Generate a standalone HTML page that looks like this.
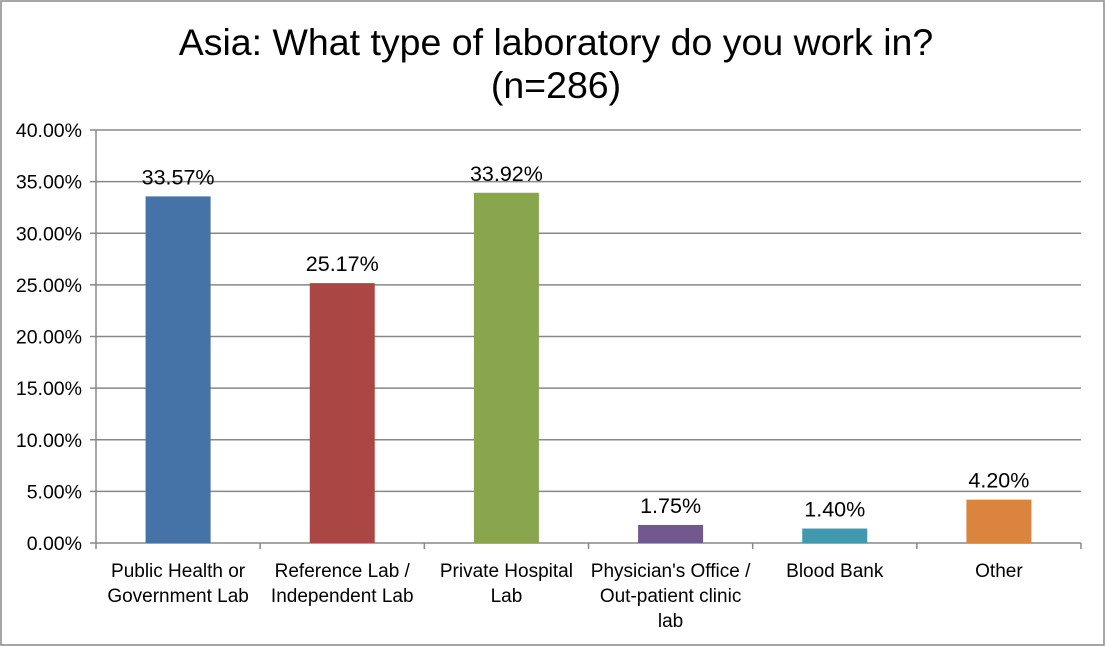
<!DOCTYPE html>
<html><head><meta charset="utf-8"><style>
body{margin:0;background:#fff;font-family:"Liberation Sans",sans-serif}
#wrap{position:relative;width:1106px;height:647px;overflow:hidden}
</style></head><body>
<div id="wrap">
<svg id="svg" width="1106" height="647" xmlns="http://www.w3.org/2000/svg">
<rect x="1" y="1" width="1103" height="644" fill="#fff" stroke="#888" stroke-width="1.5"/>
<text x="556" y="55" text-anchor="middle" font-size="37.5" fill="#000">Asia: What type of laboratory do you work in?</text>
<text x="556" y="98" text-anchor="middle" font-size="37.5" fill="#000">(n=286)</text>
<g id="grid"></g><g id="bars"></g><g id="axes"></g>
</svg>
</div>
<script>
const categories=[["Public Health or","Government Lab"],["Reference Lab /","Independent Lab"],["Private Hospital","Lab"],["Physician's Office /","Out-patient clinic","lab"],["Blood Bank"],["Other"]];
const values=[33.57,25.17,33.92,1.75,1.40,4.20];
const valueLabels=["33.57%","25.17%","33.92%","1.75%","1.40%","4.20%"];
const colors=["#4572A7","#AA4643","#89A54E","#71588F","#4198AF","#DB843D"];
const yTicks=[0,5,10,15,20,25,30,35,40];
const NS="http://www.w3.org/2000/svg";
const X0=96,X1=1081,Y0=543,Y1=130,YMAX=40;
const y=v=>Y0-(v/YMAX)*(Y0-Y1);
const bw=(X1-X0)/categories.length;
const x=i=>X0+bw*i;
function mk(tag,attrs,parent,text){const e=document.createElementNS(NS,tag);for(const k in attrs)e.setAttribute(k,attrs[k]);if(text!==undefined)e.textContent=text;document.getElementById(parent).appendChild(e);return e;}
yTicks.forEach(t=>{
 const g=mk('line',{x1:X0,x2:X1,y1:y(t),y2:y(t),stroke:'#888','stroke-width':1.5},'grid');
 
 
 const tk=mk('line',{x1:X0-6,x2:X0,y1:y(t),y2:y(t),stroke:'#888','stroke-width':1.5},'axes');
 
 
 const l=mk('text',{x:X0-14,y:y(t)+7,'text-anchor':'end','font-size':19.5,fill:'#000'},'axes',t.toFixed(2)+'%');
 
 
});
const ya=mk('line',{x1:X0,x2:X0,y1:Y1,y2:Y0,stroke:'#888','stroke-width':1.5},'axes');


for(let i=0;i<=categories.length;i++){
 const t=mk('line',{x1:x(i),x2:x(i),y1:Y0,y2:Y0+6,stroke:'#888','stroke-width':1.5},'axes');
 
 
}
values.forEach((v,i)=>{
 const w=65,cx=x(i)+bw/2;
 const r=mk('rect',{x:cx-w/2,y:y(v),width:w,height:Y0-y(v),fill:colors[i]},'bars');
 
 
 const l=mk('text',{x:cx,y:y(v)-12,'text-anchor':'middle','font-size':21.5,fill:'#000'},'bars',valueLabels[i]);
 
 
 categories[i].forEach((line,j)=>{
  const c=mk('text',{x:cx,y:577+j*25,'text-anchor':'middle','font-size':19,fill:'#000'},'axes',line);
  
  
 });
});
</script>
</body></html>
